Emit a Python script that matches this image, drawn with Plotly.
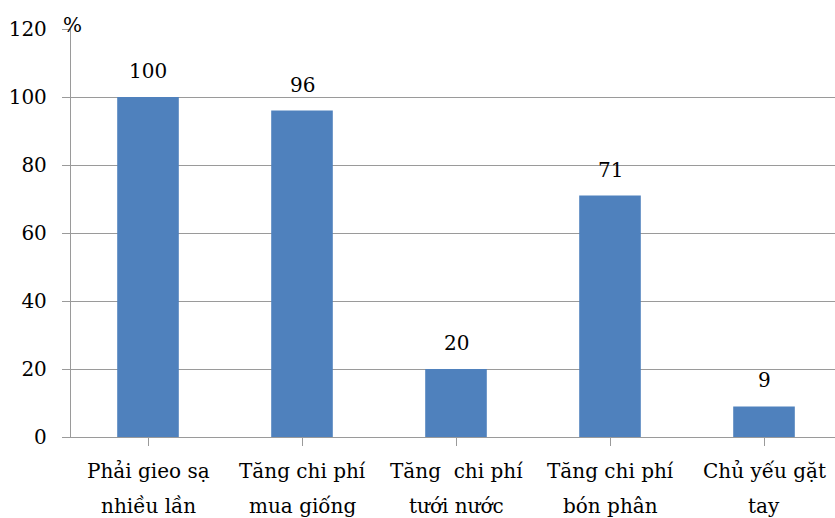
import plotly.graph_objects as go

line1 = ["Phải gieo sạ", "Tăng chi phí", "Tăng  chi phí", "Tăng chi phí", "Chủ yếu gặt"]
line2 = ["nhiều lần", "mua giống", "tưới nước", "bón phân", "tay"]
values = [100, 96, 20, 71, 9]
y_ticks = [0, 20, 40, 60, 80, 100, 120]

FONT = "DejaVu Serif"
GRID = "#9a9a9a"
FS = 20

xs = list(range(len(values)))

fig = go.Figure(
    go.Bar(
        x=xs,
        y=values,
        width=0.4,
        marker=dict(color="#4F81BD", line=dict(width=0)),
        hoverinfo="skip",
    )
)

fig.update_layout(
    width=835,
    height=518,
    margin=dict(l=71, r=0, t=29, b=81),
    paper_bgcolor="white",
    plot_bgcolor="white",
    showlegend=False,
    font=dict(family=FONT, size=FS, color="#000000"),
)

fig.update_xaxes(
    tickmode="array",
    tickvals=xs,
    ticktext=["" for _ in xs],
    range=[-0.5, 4.461],
    tickson="boundaries",
    ticks="outside",
    ticklen=8,
    tickcolor=GRID,
    tickwidth=1.3,
    showline=True,
    linecolor=GRID,
    linewidth=1.3,
    showgrid=False,
    zeroline=False,
)

fig.update_yaxes(
    range=[0, 120],
    tickmode="array",
    tickvals=y_ticks,
    ticktext=[str(t) for t in y_ticks],
    ticks="outside",
    ticklen=8,
    tickcolor=GRID,
    tickwidth=1.3,
    showline=True,
    linecolor=GRID,
    linewidth=1.3,
    showgrid=True,
    gridcolor=GRID,
    gridwidth=1.3,
    zeroline=False,
    tickfont=dict(family=FONT, size=FS, color="#000000"),
    ticklabelstandoff=11,
)

# value labels above each bar
for x, v in zip(xs, values):
    fig.add_annotation(
        x=x, y=v, text=str(v), showarrow=False,
        yanchor="middle", yshift=26,
        font=dict(family=FONT, size=FS, color="#000000"),
    )

# two-line category labels under the axis
for x, a, b in zip(xs, line1, line2):
    fig.add_annotation(
        x=x, y=0, yref="y", text=a, showarrow=False,
        yanchor="middle", yshift=-34,
        font=dict(family=FONT, size=FS, color="#000000"),
    )
    fig.add_annotation(
        x=x, y=0, yref="y", text=b, showarrow=False,
        yanchor="middle", yshift=-69,
        font=dict(family=FONT, size=FS, color="#000000"),
    )

fig.add_annotation(
    text="%",
    xref="paper",
    yref="paper",
    x=0.0,
    y=1.0,
    xanchor="left",
    yanchor="middle",
    yshift=4,
    xshift=-10,
    showarrow=False,
    font=dict(family=FONT, size=FS, color="#000000"),
)

fig.write_html("out.html")
